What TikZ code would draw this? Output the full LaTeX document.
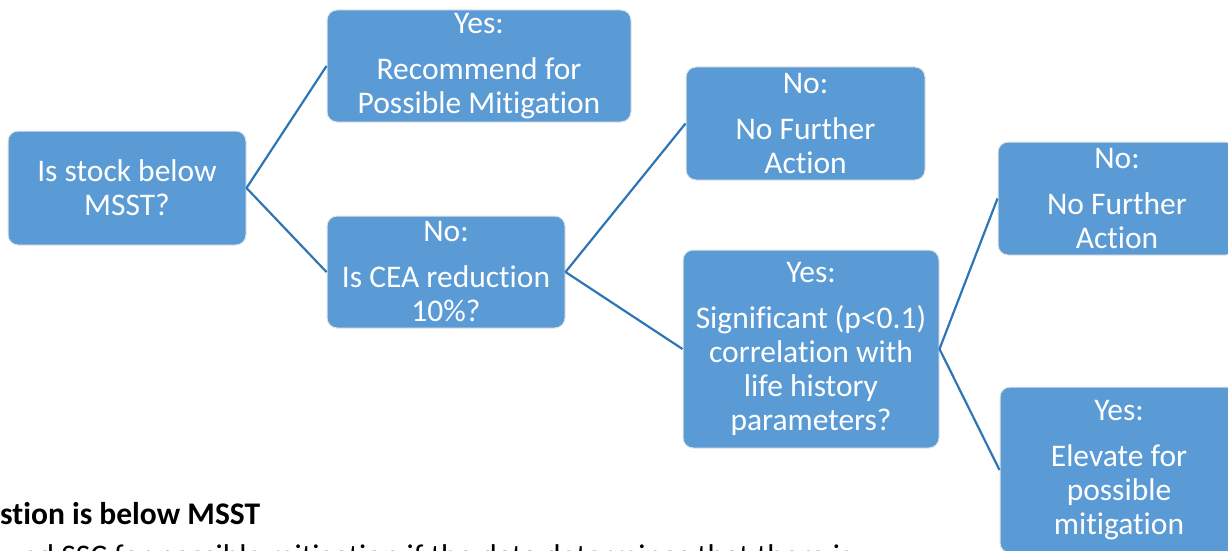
\documentclass[tikz,border=0pt]{standalone}
\usepackage{fontspec}
\setmainfont{Carlito}[Ligatures=NoCommon]
\definecolor{boxblue}{HTML}{5B9BD5}
\definecolor{linkblue}{HTML}{2E75B6}
\begin{document}
\begin{tikzpicture}[x=1pt,y=-1pt]
\tikzset{
decision box/.style={rectangle,rounded corners=10pt,draw=black!10,line width=1pt,fill=boxblue,text=white,align=center,inner sep=2pt,font=\fontsize{31.5}{34}\selectfont},
link/.style={draw=linkblue,line width=2.2pt},
note text/.style={anchor=base west,inner sep=0pt,font=\fontsize{31.5}{34}\selectfont}
}
\useasboundingbox (0,0) rectangle (1228,551);

\node(stock)[decision box,minimum width=238pt,minimum height=114pt] at (127,188) {Is stock below\\MSST?};
\node(recommend)[decision box,minimum width=304pt,minimum height=112pt] at (479,66) {Yes:\\[12pt]Recommend for\\Possible Mitigation};
\node(cea)[decision box,minimum width=238pt,minimum height=112pt] at (446,272) {No:\\[12pt]Is CEA reduction\\10\%?};
\node(noaction1)[decision box,minimum width=239pt,minimum height=113pt] at (805.5,123.5) {No:\\[12pt]No Further\\Action};
\node(significant)[decision box,minimum width=256pt,minimum height=198pt] at (811,349) {Yes:\\[12pt]Significant (p<0.1)\\correlation with\\life history\\parameters?};
\node(noaction2)[decision box,minimum width=238pt,minimum height=113pt] at (1117,198.5) {No:\\[12pt]No Further\\Action};
\node(elevate)[decision box,minimum width=238pt,minimum height=166pt] at (1119,470) {Yes:\\[12pt]Elevate for\\possible\\mitigation};

\draw[link] (stock.east) -- (recommend.west);
\draw[link] (stock.east) -- (cea.west);
\draw[link] (cea.east) -- (noaction1.west);
\draw[link] (cea.east) -- (significant.west);
\draw[link] (significant.east) -- (noaction2.west);
\draw[link] (significant.east) -- (elevate.west);

\node(heading)[note text,font=\fontsize{31.5}{34}\selectfont\bfseries] at (0,524) {stion is below MSST};
\node(bodyline)[note text] at (21,566) {nd SSC for possible mitigation if the data determines that there is};
\end{tikzpicture}
\end{document}
